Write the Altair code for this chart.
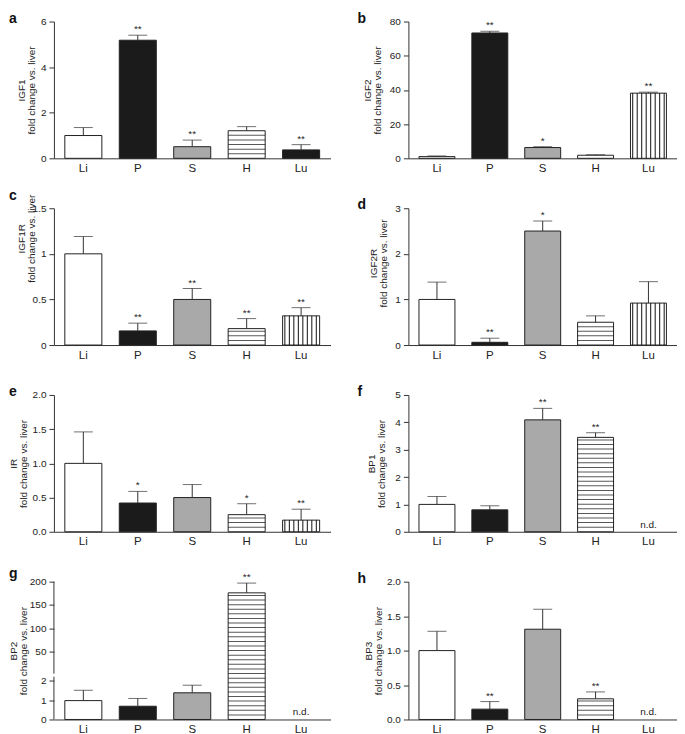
import altair as alt
import numpy as np
import pandas as pd

# ---------------- data ----------------
categories = ["Li", "P", "S", "H", "Lu"]
panel_letters = ["a", "b", "c", "d", "e", "f", "g", "h"]
gene_names = ["IGF1", "IGF2", "IGF1R", "IGF2R", "IR", "BP1", "BP2", "BP3"]

igf1_mean = [1.0, 5.18, 0.51, 1.21, 0.37]
igf1_err = [0.35, 0.22, 0.29, 0.18, 0.23]
igf1_sig = ["", "**", "**", "", "**"]

igf2_mean = [1.0, 73.3, 6.3, 1.8, 38.1]
igf2_err = [0.4, 1.0, 0.5, 0.3, 0.6]
igf2_sig = ["", "**", "*", "", "**"]

igf1r_mean = [1.0, 0.155, 0.50, 0.18, 0.32]
igf1r_err = [0.19, 0.085, 0.12, 0.11, 0.09]
igf1r_sig = ["", "**", "**", "**", "**"]

igf2r_mean = [1.0, 0.06, 2.50, 0.50, 0.92]
igf2r_err = [0.38, 0.09, 0.22, 0.14, 0.47]
igf2r_sig = ["", "**", "*", "", ""]

ir_mean = [1.0, 0.42, 0.50, 0.25, 0.17]
ir_err = [0.46, 0.17, 0.19, 0.16, 0.16]
ir_sig = ["", "*", "", "*", "**"]

bp1_mean = [1.0, 0.80, 4.09, 3.45, None]
bp1_err = [0.29, 0.15, 0.42, 0.17, None]
bp1_sig = ["", "", "**", "**", ""]

bp2_mean = [0.97, 0.68, 1.37, 176.0, None]
bp2_err = [0.53, 0.40, 0.39, 21.0, None]
bp2_sig = ["", "", "", "**", ""]

bp3_mean = [1.0, 0.15, 1.31, 0.30, None]
bp3_err = [0.28, 0.11, 0.29, 0.10, None]
bp3_sig = ["", "**", "", "**", ""]

means = [igf1_mean, igf2_mean, igf1r_mean, igf2r_mean, ir_mean, bp1_mean, bp2_mean, bp3_mean]
errs = [igf1_err, igf2_err, igf1r_err, igf2r_err, ir_err, bp1_err, bp2_err, bp3_err]
sigs = [igf1_sig, igf2_sig, igf1r_sig, igf2r_sig, ir_sig, bp1_sig, bp2_sig, bp3_sig]

y_max = [6, 80, 1.5, 3, 2.0, 5, 200, 2.0]
y_ticks = [
    [0, 2, 4, 6],
    [0, 20, 40, 60, 80],
    [0, 0.5, 1, 1.5],
    [0, 1, 2, 3],
    [0, 0.5, 1.0, 1.5, 2.0],
    [0, 1, 2, 3, 4, 5],
    [0, 1, 2, 50, 100, 150, 200],
    [0, 0.5, 1.0, 1.5, 2.0],
]
y_formats = ["d", "d", "~g", "d", ".1f", "d", "d", ".1f"]

# broken axis of panel g (lower segment 0..2.2, upper 2.3..200)
break_domain = [0, 2.2, 2.3, 200]

# ---------------- style ----------------
FONT = "Liberation Sans"
INK = "#222222"
AXIS = "#333333"
fill_colors = {"Li": "#ffffff", "P": "#1b1b1b", "S": "#a9a9a9", "H": "#ffffff", "Lu": "#ffffff"}
patterns = {"Li": "", "P": "", "S": "", "H": "h", "Lu": "v"}
widths = [277, 269]
heights = [137, 137, 137, 138]
title_gap = [17, 26, 17, 20, 25, 22, 25, 25]
title_center = [0.5, 0.5, 0.22, 0.4, 0.5, 0.5, 0.5, 0.5]  # fraction of plot height
TITLE_LINE = 10
letter_dx = [-45, -51]
PAD_IN, PAD_OUT = 0.32, 0.2
HATCH_PX = 4.6
N_VSTRIPES = 8


def make_panel(i):
    col = i % 2
    W = widths[col]
    Hh = heights[i // 2]
    step = W / (5 - PAD_IN + 2 * PAD_OUT)
    bw = step * (1 - PAD_IN)

    df = pd.DataFrame({"cat": categories, "mean": means[i], "err": errs[i], "sig": sigs[i]})
    df["mean"] = df["mean"].astype(float)
    df["err"] = df["err"].astype(float)
    df["top"] = df["mean"] + df["err"]
    df["base"] = 0.0
    fills = [fill_colors[c] for c in categories]
    pats = [patterns[c] for c in categories]
    if i == 0:  # Lu bar of panel a is rendered solid dark
        fills[4] = fill_colors["P"]
        pats[4] = ""
    df["fill"] = fills
    df["pat"] = pats
    df["nd"] = np.where(df["mean"].isna(), "n.d.", "")

    if i == 6:
        lo_px = Hh - 2.2 * 19.5
        yscale = alt.Scale(domain=break_domain, range=[Hh, lo_px, lo_px - 3, 0], nice=False, zero=False)

        def px_to_val(p):
            r = Hh - p
            if r >= lo_px:
                return (Hh - r) / (Hh - lo_px) * 2.2
            if r >= lo_px - 3:
                return 2.2 + (lo_px - r) / 3 * 0.1
            return 2.3 + (lo_px - 3 - r) / (lo_px - 3) * (200 - 2.3)
    else:
        yscale = alt.Scale(domain=[0, y_max[i]], nice=False)

        def px_to_val(p):
            return p / Hh * y_max[i]

    yaxis = alt.Axis(
        values=y_ticks[i],
        format=y_formats[i],
        title=[gene_names[i], "fold change vs. liver"],
        minExtent=title_gap[i],
        maxExtent=title_gap[i],
        titlePadding=0,
        titleX=-(title_gap[i] + TITLE_LINE),
        titleY=round(Hh * title_center[i], 1),
        domain=(i != 6),
        labelFlush=False,
    )
    xscale = alt.Scale(paddingInner=PAD_IN, paddingOuter=PAD_OUT)
    xaxis = alt.Axis(title=None, labelAngle=0)

    def X():
        return alt.X("cat:N", sort=categories, scale=xscale, axis=xaxis)

    def Y(field):
        return alt.Y(field, scale=yscale, axis=yaxis, title=[gene_names[i], "fold change vs. liver"])

    layers = []
    bars = alt.Chart(df).mark_bar(stroke=INK, strokeWidth=1).encode(
        x=X(),
        y=Y("mean:Q"),
        fill=alt.Fill("fill:N", scale=None),
    )
    layers.append(bars)

    # horizontal hatch
    hrows = []
    for _, r in df[(df["pat"] == "h") & df["mean"].notna()].iterrows():
        k = 1
        while True:
            v = px_to_val(k * HATCH_PX)
            if v >= r["mean"] - (px_to_val(HATCH_PX * (k + 0.4)) - v):
                break
            hrows.append({"cat": r["cat"], "mean": v})
            k += 1
    if hrows:
        hdf = pd.DataFrame(hrows)
        layers.append(
            alt.Chart(hdf).mark_tick(color="#111111", thickness=1, size=bw).encode(
                x=X(), y=Y("mean:Q")
            )
        )

    # vertical hatch
    vrows = []
    for _, r in df[(df["pat"] == "v") & df["mean"].notna()].iterrows():
        for k in range(N_VSTRIPES):
            vrows.append({"cat": r["cat"], "idx": k, "base": 0.0, "mean": r["mean"]})
    if vrows:
        vdf = pd.DataFrame(vrows)
        layers.append(
            alt.Chart(vdf).mark_rule(color="#111111", strokeWidth=1).encode(
                x=X(),
                xOffset=alt.XOffset("idx:O", scale=alt.Scale(paddingInner=0, paddingOuter=0)),
                y=Y("mean:Q"),
                y2="base:Q",
            )
        )

    edf = df[df["mean"].notna()]
    layers.append(
        alt.Chart(edf).mark_rule(color=AXIS, strokeWidth=1).encode(
            x=X(), y=Y("mean:Q"), y2="top:Q"
        )
    )
    layers.append(
        alt.Chart(edf.assign(mean=edf["top"])).mark_tick(color=AXIS, thickness=1, size=19).encode(
            x=X(), y=Y("mean:Q")
        )
    )
    sdf = df[df["sig"] != ""]
    if len(sdf):
        layers.append(
            alt.Chart(sdf.assign(mean=sdf["top"])).mark_text(
                baseline="bottom", dy=-1, fontSize=10, color=INK
            ).encode(x=X(), y=Y("mean:Q"), text="sig:N")
        )
    ndf = df[df["nd"] != ""]
    if len(ndf):
        layers.append(
            alt.Chart(ndf.assign(mean=0.0)).mark_text(
                baseline="bottom", dy=-2, fontSize=10, color=INK
            ).encode(x=X(), y=Y("mean:Q"), text="nd:N")
        )
    if i == 6:
        segdf = pd.DataFrame({"mean": [break_domain[0], break_domain[2]], "hi": [break_domain[1], break_domain[3]]})
        layers.append(
            alt.Chart(segdf).mark_rule(color=AXIS, strokeWidth=1).encode(
                x=alt.value(0), y=Y("mean:Q"), y2="hi:Q"
            )
        )

    return alt.layer(*layers).properties(
        width=W,
        height=Hh,
        title=alt.TitleParams(
            panel_letters[i], anchor="start", frame="group", dx=letter_dx[col], offset=-9,
            fontSize=14, fontWeight="bold", font=FONT, color="#111111",
        ),
    )


panels = [make_panel(i) for i in range(8)]

chart = (
    alt.concat(*panels, columns=2, spacing={"row": 50, "column": 78}, bounds="flush", align="each")
    .properties(padding={"top": 3, "left": 0, "right": 0, "bottom": 0})
    .configure_view(stroke=None)
    .configure_axis(
        labelFont=FONT, titleFont=FONT, labelFontSize=10, titleFontSize=10,
        titleFontWeight="normal", labelColor=INK, titleColor=INK,
        domainColor=AXIS, tickColor=AXIS, tickSize=5, labelPadding=3, grid=False,
        titleLineHeight=TITLE_LINE,
    )
    .configure_axisX(labelFontSize=11.5, ticks=False, labelPadding=4)
    .configure_text(font=FONT)
    .configure_title(font=FONT)
)

chart.save("out.html", embed_options={"renderer": "svg", "actions": False})
